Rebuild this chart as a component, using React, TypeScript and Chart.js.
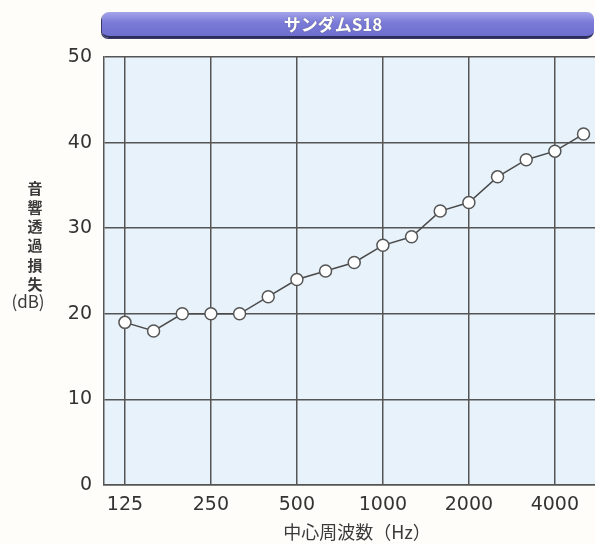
import React, { useEffect, useRef } from "react";
import { Chart, registerables } from "chart.js";

Chart.register(...registerables);

const frequencies = ["125", "160", "200", "250", "315", "400", "500", "630", "800", "1000", "1250", "1600", "2000", "2500", "3150", "4000", "5000"];
const lossValues = [19, 18, 20, 20, 20, 22, 24, 25, 26, 28, 29, 32, 33, 36, 38, 39, 41];
const shownTickIndices = [0, 3, 6, 9, 12, 15];
const yTicks = [0, 10, 20, 30, 40, 50];
const chartTitle = "サンダムS18";
const yTitleChars = ["音", "響", "透", "過", "損", "失"];
const yTitleUnit = "(dB)";
const xTitle = "中心周波数（Hz）";

const TICK_FONT = "'DejaVu Sans', sans-serif";
const JP_FONT = "'Noto Sans CJK JP', sans-serif";

const titlesPlugin = {
  id: "axisTitles",
  beforeDraw(chart: any) {
    const { ctx, chartArea } = chart;
    ctx.save();
    ctx.fillStyle = "#e7f2fb";
    ctx.fillRect(chartArea.left, chartArea.top, chartArea.right - chartArea.left, chartArea.bottom - chartArea.top);
    ctx.restore();
  },
  afterDraw(chart: any) {
    const { ctx } = chart;
    ctx.save();
    ctx.fillStyle = "#3a3a3a";
    ctx.textAlign = "center";
    ctx.textBaseline = "middle";
    ctx.font = `bold 15px ${JP_FONT}`;
    yTitleChars.forEach((c, i) => {
      ctx.fillText(c, 35, 188 + i * 19.2);
    });
    ctx.font = `17px ${JP_FONT}`;
    ctx.fillText(yTitleUnit, 28, 302);
    ctx.font = `18px ${JP_FONT}`;
    ctx.fillText(xTitle, 357, 532);
    ctx.restore();
  },
};

export default function App() {
  const canvasRef = useRef<HTMLCanvasElement | null>(null);

  useEffect(() => {
    if (!canvasRef.current) return;
    const chart = new Chart(canvasRef.current, {
      type: "line",
      data: {
        datasets: [
          {
            data: lossValues.map((v, i) => ({ x: i, y: v })),
            borderColor: "#4a4a4a",
            borderWidth: 1.5,
            pointRadius: 6,
            pointBorderWidth: 1.5,
            pointBackgroundColor: "#ffffff",
            pointBorderColor: "#555555",
            tension: 0,
            clip: false,
          },
        ],
      },
      plugins: [titlesPlugin],
      options: {
        animation: false,
        responsive: false,
        events: [],
        layout: { autoPadding: false, padding: { top: 57, right: 0, left: 0, bottom: 0 } },
        plugins: {
          legend: { display: false },
          tooltip: { enabled: false },
          title: { display: false },
        },
        scales: {
          x: {
            type: "linear",
            min: -0.73,
            max: 16.4,
            afterBuildTicks: (scale: any) => {
              scale.ticks = shownTickIndices.map((v) => ({ value: v }));
            },
            afterFit: (scale: any) => {
              scale.height = 59;
            },
            ticks: {
              callback: (v: any) => frequencies[v as number] ?? "",
              font: { family: TICK_FONT, size: 19 },
              color: "#333",
              padding: 9,
              maxRotation: 0,
              autoSkip: false,
            },
            grid: { color: "#555", lineWidth: 1.5, drawTicks: false },
            border: { display: true, color: "#555", width: 1.5 },
          },
          y: {
            min: 0,
            max: 50,
            afterBuildTicks: (scale: any) => {
              scale.ticks = yTicks.map((v) => ({ value: v }));
            },
            afterFit: (scale: any) => {
              scale.width = 104;
            },
            ticks: {
              font: { family: TICK_FONT, size: 19 },
              color: "#333",
              padding: 12,
            },
            grid: { color: "#555", lineWidth: 1.5, drawTicks: false },
            border: { display: true, color: "#555", width: 1.5 },
          },
        },
      },
    } as any);
    return () => chart.destroy();
  }, []);

  return (
    <div style={{ position: "fixed", left: 0, top: 0, width: 595, height: 544, background: "#fefdf9", overflow: "hidden" }}>
      <canvas ref={canvasRef} width={595} height={544} style={{ position: "absolute", left: 0, top: 0 }} />
      <div
        style={{
          position: "absolute",
          left: 102,
          top: 12,
          width: 492,
          height: 26,
          borderRadius: 7,
          background: "linear-gradient(#a4a4ea, #7a7ad8 45%, #6e6ed0)",
          borderBottom: "2px solid #2c2c58",
          boxShadow: "-1px 1px 0 #3a3a6a",
          color: "#fff",
          fontFamily: JP_FONT,
          fontSize: 17,
          fontWeight: 700,
          lineHeight: "24px",
          textAlign: "center",
          paddingRight: 30,
          boxSizing: "border-box",
          textShadow: "0 0 1px #555",
        }}
      >
        {chartTitle}
      </div>
    </div>
  );
}
